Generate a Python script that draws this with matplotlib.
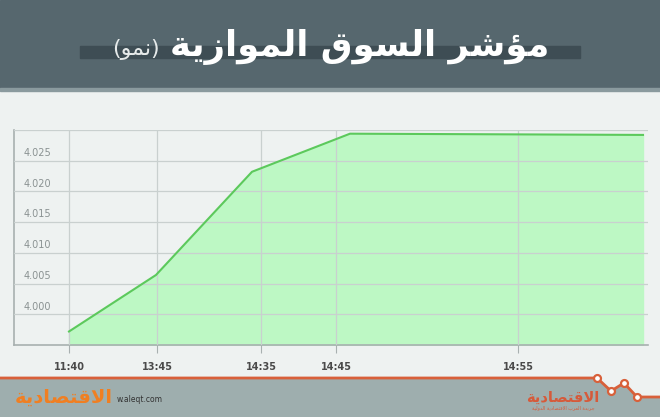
import matplotlib
matplotlib.use("Agg")
import matplotlib.pyplot as plt
from matplotlib.patches import Rectangle, Polygon
from matplotlib.lines import Line2D

# chart data (x in slot units along the time axis)
tick_labels = ["11:40", "13:45", "14:35", "14:45", "14:55"]
tick_pos = [0, 88, 192, 267, 449]
point_x = [0, 87, 183, 281, 574]
point_y = [3.9972, 4.0064, 4.0232, 4.0294, 4.0292]
y_ticks = [4.000, 4.005, 4.010, 4.015, 4.020, 4.025]

title = "مؤشر السوق الموازية"
subtitle = "(نمو)"
logo = "الاقتصادية"
logo_sub = "جريدة العرب الاقتصادية الدولية"

# arabic letters: isolated, final, initial, medial
FORMS = {
    'ا': (0xFE8D, 0xFE8E, None, None),
    'ل': (0xFEDD, 0xFEDE, 0xFEDF, 0xFEE0),
    'م': (0xFEE1, 0xFEE2, 0xFEE3, 0xFEE4),
    'ؤ': (0xFE85, 0xFE86, None, None),
    'ش': (0xFEB5, 0xFEB6, 0xFEB7, 0xFEB8),
    'ر': (0xFEAD, 0xFEAE, None, None),
    'س': (0xFEB1, 0xFEB2, 0xFEB3, 0xFEB4),
    'و': (0xFEED, 0xFEEE, None, None),
    'ق': (0xFED5, 0xFED6, 0xFED7, 0xFED8),
    'ز': (0xFEAF, 0xFEB0, None, None),
    'ي': (0xFEF1, 0xFEF2, 0xFEF3, 0xFEF4),
    'ة': (0xFE93, 0xFE94, None, None),
    'ن': (0xFEE5, 0xFEE6, 0xFEE7, 0xFEE8),
    'ت': (0xFE95, 0xFE96, 0xFE97, 0xFE98),
    'ص': (0xFEB9, 0xFEBA, 0xFEBB, 0xFEBC),
    'د': (0xFEA9, 0xFEAA, None, None),
    'ج': (0xFE9D, 0xFE9E, 0xFE9F, 0xFEA0),
    'ع': (0xFEC9, 0xFECA, 0xFECB, 0xFECC),
    'ب': (0xFE8F, 0xFE90, 0xFE91, 0xFE92),
}


def shape(text):
    # contextual forms + visual order for matplotlib
    res = []
    n = len(text)
    i = 0
    while i < n:
        c = text[i]
        if c not in FORMS:
            res.append(c)
            i += 1
            continue
        prev = text[i - 1] if i > 0 else None
        link_prev = prev in FORMS and FORMS[prev][2] is not None
        if c == 'ل' and i + 1 < n and text[i + 1] == 'ا':
            res.append(chr(0xFEFC if link_prev else 0xFEFB))
            i += 2
            continue
        nxt = text[i + 1] if i + 1 < n else None
        iso, fin, ini, med = FORMS[c]
        link_next = ini is not None and nxt in FORMS
        if link_prev and link_next:
            g = med
        elif link_prev:
            g = fin
        elif link_next:
            g = ini
        else:
            g = iso
        res.append(chr(g))
        i += 1
    return ''.join(res)[::-1].translate(str.maketrans('()', ')('))


W, H = 660, 417


def fx(x):
    return x / W


def fy(y):
    return 1 - y / H


fig = plt.figure(figsize=(6.6, 4.17), dpi=100)
fig.patch.set_facecolor('#eef2f1')

# header
fig.patches.append(Rectangle((0, fy(88)), 1, 88 / H, transform=fig.transFigure,
                             color='#56676e', zorder=0))
fig.patches.append(Rectangle((0, fy(91)), 1, 3 / H, transform=fig.transFigure,
                             color='#8a9a9e', zorder=0))
fig.patches.append(Rectangle((fx(80), fy(58)), 500 / W, 12 / H, transform=fig.transFigure,
                             color='#3e4d54', zorder=1))
fig.text(fx(549), fy(47), shape(title), ha='right', va='center', color='white',
         fontsize=25.5, fontweight='bold', family='DejaVu Sans', zorder=3)
fig.text(fx(160), fy(50), shape(subtitle), ha='right', va='center', color='#e6eaea',
         fontsize=16, family='DejaVu Sans', zorder=3)

# footer
foot = [(0, 378), (597, 378), (611, 391), (624, 383), (637, 397), (660, 397), (660, 417), (0, 417)]
fig.patches.append(Polygon([(fx(a), fy(b)) for a, b in foot], closed=True,
                           transform=fig.transFigure, color='#9eaeae', zorder=0))
zig = foot[:6]
fig.lines.append(Line2D([fx(a) for a, b in zig], [fy(b) for a, b in zig],
                        transform=fig.transFigure, color='#d8603a', lw=2, zorder=2))
fig.lines.append(Line2D([fx(a) for a, b in zig[1:5]], [fy(b) for a, b in zig[1:5]],
                        transform=fig.transFigure, ls='none', marker='o', ms=5,
                        mfc='white', mec='#d8603a', mew=1.6, zorder=3))
fig.text(fx(15), fy(397), shape(logo), ha='left', va='center', color='#f07f22',
         fontsize=14, fontweight='bold', family='DejaVu Sans')
fig.text(fx(117), fy(400), "w.aleqt.com", ha='left', va='center', color='#333333',
         fontsize=5.5)
fig.text(fx(563), fy(397), shape(logo), ha='center', va='center', color='#d65a3a',
         fontsize=10.5, fontweight='bold', family='DejaVu Sans')
fig.text(fx(563), fy(408), shape(logo_sub), ha='center', va='center', color='#d65a3a',
         fontsize=3.5, family='DejaVu Sans')

# chart
ax = fig.add_axes([fx(14), fy(345), (648 - 14) / W, (345 - 130) / H])
ax.set_facecolor('none')
ax.fill_between(point_x, point_y, 3.995, color='#bdf8c4', zorder=1)
ax.plot(point_x, point_y, color='#5cc95c', lw=1.5, zorder=3)
ax.set_xlim(-55, 579)
ax.set_ylim(3.995, 4.030)
ax.set_yticks(y_ticks + [4.030])
ax.set_xticks(tick_pos)
ax.set_xticklabels(tick_labels, fontsize=7, fontweight='bold', color='#4a4a4a')
ax.tick_params(axis='x', length=6, color='#a8b0b0', pad=6)
ax.tick_params(axis='y', length=0, labelleft=False)
ax.grid(True, color='#c9d0cf', lw=0.9, zorder=2)
ax.set_axisbelow(False)
for s in ['top', 'right']:
    ax.spines[s].set_visible(False)
for s in ['left', 'bottom']:
    ax.spines[s].set_color('#a8b0b0')
    ax.spines[s].set_linewidth(1.2)
for v in y_ticks:
    ax.annotate(f"{v:.3f}", (0, v), xycoords=('axes fraction', 'data'),
                xytext=(7, 2), textcoords='offset points', ha='left', va='bottom',
                fontsize=7, color='#8a9292')

fig.savefig("out.png", dpi=100, facecolor=fig.get_facecolor())
